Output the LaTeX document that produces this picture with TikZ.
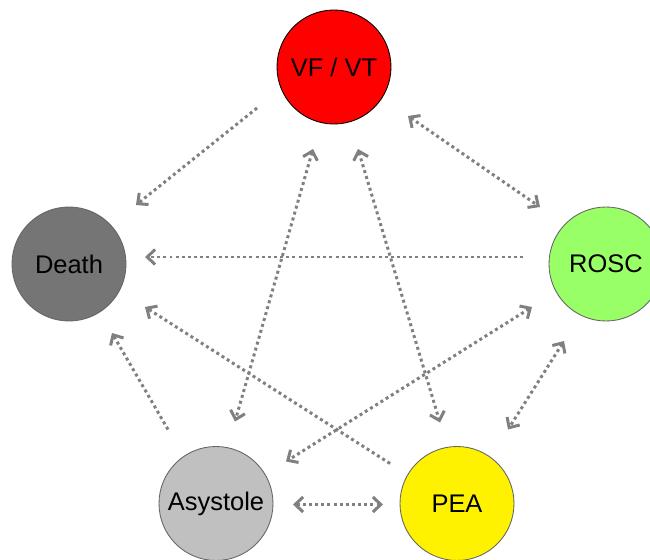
\documentclass[tikz,border=0pt]{standalone}
\usepackage{fontspec}
\setmainfont{Liberation Sans}
\usetikzlibrary{arrows.meta,calc}

\tikzset{
  state/.style={circle,draw=black!60,line width=0.5pt,minimum size=114*0.02cm,
    inner sep=0pt,font=\fontsize{14.5}{16}\selectfont},
  trans/.style={draw=black!50,line width=1.7pt,dash pattern=on 1.7pt off 1.8pt,
    -{Straight Barb[length=4.5pt,width=8.5pt]}},
  both/.style={trans,{Straight Barb[length=4.5pt,width=8.5pt]}-{Straight Barb[length=4.5pt,width=8.5pt]}}
}
\definecolor{deathgray}{HTML}{757575}
\definecolor{roscgreen}{HTML}{99FF66}
\definecolor{asysgray}{HTML}{C0C0C0}

\begin{document}
\begin{tikzpicture}[x=0.02cm,y=0.02cm]
\useasboundingbox (0,0) rectangle (650,559);
\clip (0,0) rectangle (650,559);
% states
\node[state,fill=red,draw=black] (vf) at (334,492) {VF / VT};
\node[state,fill=deathgray] (death) at (69,295) {Death};
\node[state,fill=roscgreen] (rosc) at (606,295) {ROSC};
\node[state,fill=asysgray] (asys) at (216,55.5) {Asystole};
\node[state,fill=yellow] (pea) at (457,55.5) {PEA};
% transitions
\draw[trans] ($(vf)+(-77,-41)$) -- ($(death)+(67,59)$);
\draw[both] ($(vf)+(74,-49)$) -- ($(rosc)+(-66,57)$);
\draw[both] ($(vf)+(-21,-82)$) -- ($(asys)+(19,82)$);
\draw[both] ($(vf)+(24,-82)$) -- ($(pea)+(-17,81)$);
\draw[trans] ($(rosc)+(-83,7)$) -- ($(death)+(76,7)$);
\draw[trans] ($(pea)+(-67,40)$) -- ($(death)+(76,-43)$);
\draw[trans] ($(asys)+(-48,74)$) -- ($(death)+(43,-69)$);
\draw[both] ($(rosc)+(-74,-43)$) -- ($(asys)+(70,42)$);
\draw[both] ($(rosc)+(-42,-77)$) -- ($(pea)+(51,74)$);
\draw[both] ($(asys)+(77,-1)$) -- ($(pea)+(-74,-1)$);
\end{tikzpicture}
\end{document}
